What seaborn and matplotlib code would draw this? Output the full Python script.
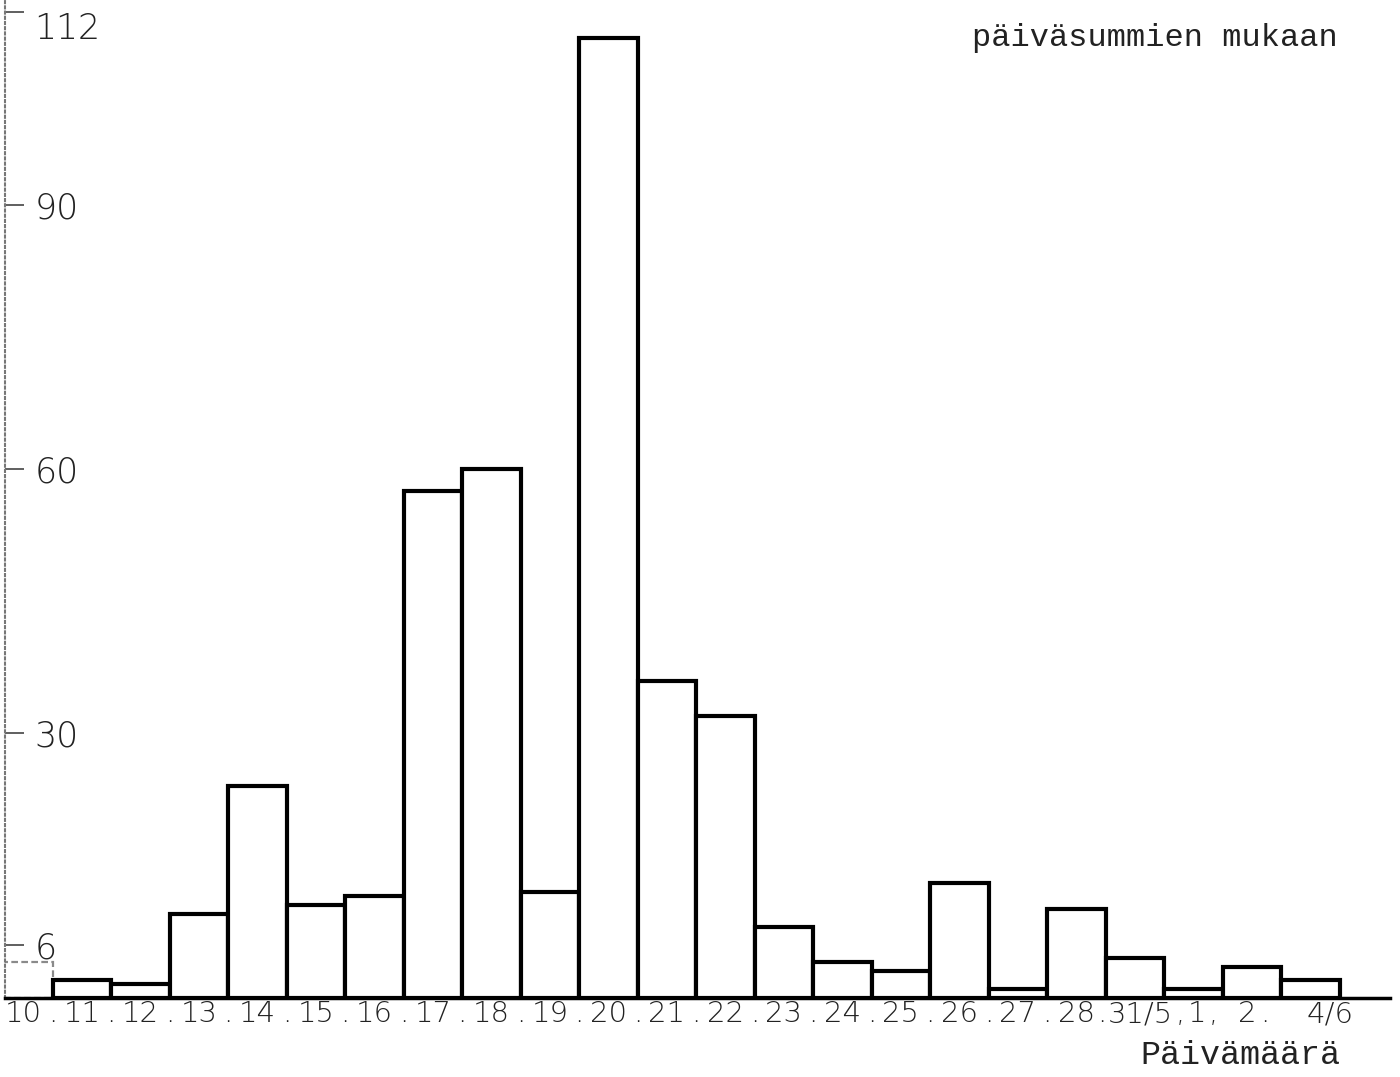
import numpy as np
import pandas as pd
import matplotlib
matplotlib.use("Agg")
import matplotlib.pyplot as plt
import matplotlib.transforms as mtransforms
import seaborn as sns

# ---- data ----
dates = ["10", "11", "12", "13", "14", "15", "16", "17", "18", "19", "20",
         "21", "22", "23", "24", "25", "26", "27", "28", "31/5", "1", "2", "4/6"]
counts = [4, 2, 1.5, 9.5, 24, 10.5, 11.5, 57.5, 60, 12, 109,
          36, 32, 8, 4, 3, 13, 1, 10, 4.5, 1, 3.5, 2]
separators = [".", ".", ".", ".", ".", ".", ".", ".", ".", ".", ".",
              ".", ".", ".", ".", ".", ".", ".", ".", ",", ",", "."]
y_ticks = [6, 30, 60, 90, 112]
title_text = "päiväsummien mukaan"
xlabel_text = "Päivämäärä"

sns.set_theme(style="white")
plt.rcParams["font.family"] = ["DejaVu Sans"]

W, H = 1400, 1077
fig = plt.figure(figsize=(W / 100, H / 100), dpi=100)
fig.patch.set_facecolor("white")
ax = fig.add_axes([5 / W, 79.5 / H, 1385 / W, 997.5 / H])
ax.set_facecolor("white")

df = pd.DataFrame({"date": dates, "count": counts})
sns.barplot(data=df, x="date", y="count", order=dates, color="white",
            saturation=1, edgecolor="black", linewidth=3, width=1.0, ax=ax)

# first bar is faint / dashed in the original
first = ax.patches[0]
first.set_edgecolor("#8a8a8a")
first.set_linestyle((0, (3, 1.5)))
first.set_linewidth(1.6)

ax.set_xlim(-0.312, 23.36)
ax.set_ylim(0, 113.35)

# x tick labels (dates) plus separators between them
ax.set_xticks(np.arange(len(dates)))
ax.set_xticklabels(dates)
ax.set_xticks(np.arange(len(dates) - 1) + 0.5, minor=True)
ax.set_xticklabels(separators, minor=True)
ax.tick_params(axis="x", which="both", length=0, pad=2, labelsize=21,
               labelcolor="#222222")
for lab in ax.get_xticklabels(which="both"):
    lab.set_fontweight("light")


def shift(label, dx_px):
    label.set_transform(label.get_transform() +
                        mtransforms.ScaledTranslation(dx_px / 100, 0, fig.dpi_scale_trans))


major = ax.get_xticklabels()
minor = ax.get_xticklabels(minor=True)
shift(major[19], 5)    # 31/5
shift(major[20], 4)    # 1
shift(major[21], -5)   # 2
shift(major[22], 20)   # 4/6
shift(minor[18], -4)   # after 28
shift(minor[19], 16)   # after 31/5
shift(minor[20], -9)   # after 1
shift(minor[21], -16)  # after 2

# y ticks inside the axis
ax.set_yticks(y_ticks)
ax.set_yticklabels([str(v) for v in y_ticks])
ax.tick_params(axis="y", direction="in", length=14, width=1.2, color="#444444",
               pad=-21, labelsize=25, labelcolor="#222222", left=True)
for lab in ax.get_yticklabels():
    lab.set_horizontalalignment("left")
    lab.set_fontweight("light")
ax.get_yticklabels()[-1].set_verticalalignment("top")

ax.set_xlabel("")
ax.set_ylabel("")

for s in ["top", "right"]:
    ax.spines[s].set_visible(False)
ax.spines["bottom"].set_color("black")
ax.spines["bottom"].set_linewidth(2.5)
ax.spines["left"].set_color("#777777")
ax.spines["left"].set_linewidth(1.5)
ax.spines["left"].set_linestyle((0, (1, 1.5)))

fig.text(972 / W, 1 - 38 / H, title_text, ha="left", va="center",
         fontsize=23, family=["Liberation Mono", "DejaVu Sans Mono"], color="#222222")
fig.text(1140 / W, 1 - 1055 / H, xlabel_text, ha="left", va="center",
         fontsize=24, family=["Liberation Mono", "DejaVu Sans Mono"], color="#222222")

fig.savefig("out.png", dpi=100, facecolor="white")
